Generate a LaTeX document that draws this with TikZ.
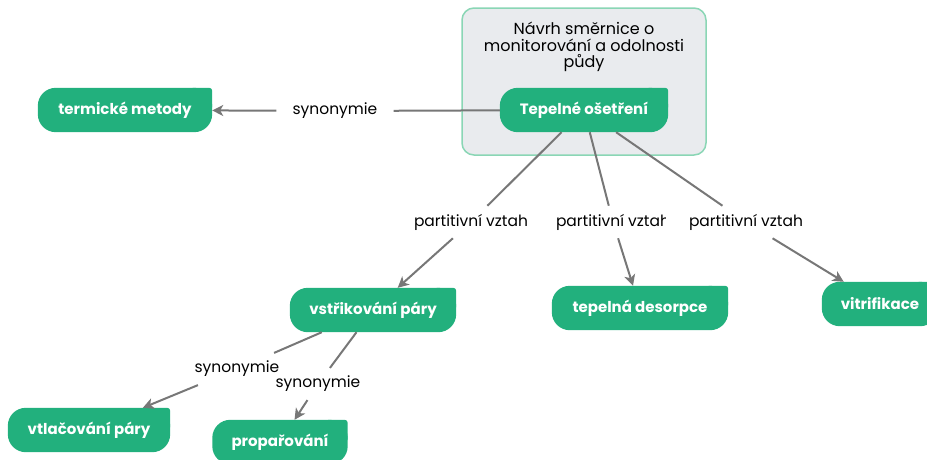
\documentclass[tikz,border=0pt]{standalone}
\usepackage{fontspec}
\setmainfont{Poppins}
\usetikzlibrary{arrows.meta}
\pgfdeclarelayer{bg}
\pgfsetlayers{bg,main}
\definecolor{nodegreen}{HTML}{22B07D}
\definecolor{linegrey}{HTML}{777777}
\definecolor{groupfill}{HTML}{E9EBEE}
\definecolor{groupline}{HTML}{8AD6B5}
\tikzset{
  concept/.style={text=white,
    font=\bfseries\fontsize{15}{18}\selectfont, minimum height=44pt, inner sep=0pt,
    append after command={\pgfextra{\begin{pgfonlayer}{bg}
      \fill[nodegreen, rounded corners=18pt] (\tikzlastnode.south west) rectangle (\tikzlastnode.north east);
      \fill[nodegreen, rounded corners=3pt] (\tikzlastnode.north east) rectangle ([xshift=-22pt,yshift=-22pt]\tikzlastnode.north east);
      \end{pgfonlayer}}}},
  lbl/.style={text=black, font=\fontsize{15.5}{18}\selectfont, inner xsep=16pt, inner ysep=8pt},
  groupbox/.style={fill=groupfill, draw=groupline, line width=1.5pt, rounded corners=12pt},
  conn/.style={draw=linegrey, line width=2pt},
  arr/.style={conn, -{Stealth[length=11pt,width=11pt,inset=3pt]}}
}
\begin{document}
\begin{tikzpicture}[x=1pt,y=-1pt]
\useasboundingbox (0,0) rectangle (927,459);
\clip (0,0) rectangle (927,459);
% group
\begin{pgfonlayer}{bg}
\node[groupbox, minimum width=244pt, minimum height=147pt] (grp) at (584,81.5) {};
\end{pgfonlayer}
\node[text=black, font=\fontsize{16}{16.5}\selectfont, align=center] (title) at (584,47)
  {Návrh směrnice o\\monitorování a odolnosti\\půdy};
% concepts
\node[concept, minimum width=168pt] (tep) at (584,110) {Tepelné ošetření};
\node[concept, minimum width=174pt] (term) at (125,110) {termické metody};
\node[concept, minimum width=166pt] (vstr) at (373,310) {vstřikování páry};
\node[concept, minimum width=176pt] (desor) at (640,308) {tepelná desorpce};
\node[concept, minimum width=116pt] (vitr) at (880,304) {vitrifikace};
\node[concept, minimum width=162pt] (vtla) at (89,430) {vtlačování páry};
\node[concept, minimum width=135pt] (prop) at (280,442) {propařování};
% labels
\node[lbl] (l1) at (335,111) {synonymie};
\node[lbl] (l2) at (471,222) {partitivní vztah};
\begin{scope}
\clip (540,195) rectangle (665,250);
\node[lbl] (l3) at (613,222) {partitivní vztah};
\end{scope}
\node[lbl] (l4) at (746,222) {partitivní vztah};
\node[lbl] (l5) at (237,369) {synonymie};
\node[lbl] (l6) at (318,384) {synonymie};
% connectors
\draw[conn] (tep) -- (l1);
\draw[arr] (l1) -- (term);
\draw[conn] (tep) -- (l2);
\draw[arr] (l2) -- (vstr);
\draw[conn] (tep) -- (l3);
\draw[arr] (l3) -- (desor);
\draw[conn] (tep) -- (l4);
\draw[arr] (l4) -- (vitr);
\draw[conn] (vstr) -- (l5);
\draw[arr] (l5) -- (vtla);
\draw[conn] (vstr) -- (l6);
\draw[arr] (l6) -- (prop);
\end{tikzpicture}
\end{document}
